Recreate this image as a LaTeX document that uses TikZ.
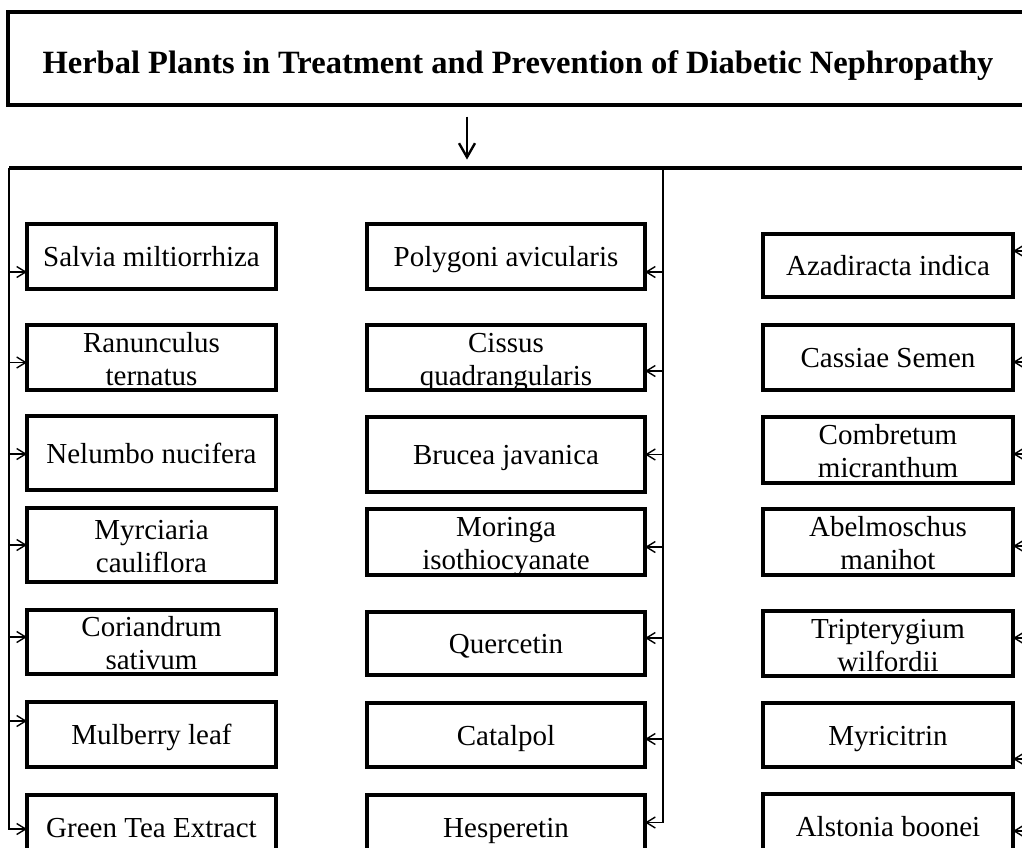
\documentclass[tikz,border=0pt]{standalone}
\usepackage{fontspec}
\setmainfont{Liberation Serif}
\usepackage{tikz}
\usetikzlibrary{arrows.meta,positioning}

\begin{document}
\begin{tikzpicture}[
        x=1pt, y=-1pt,
        node distance=28pt,
        plant/.style={draw, rectangle, line width=3.2pt, inner sep=0pt, outer sep=0pt,
            minimum height=65pt, text height=20pt, text depth=0pt, align=center,
            font=\fontsize{29}{33}\selectfont},
        twoline/.style={text height=55pt, text depth=0pt},
        leftbox/.style={plant, minimum width=249pt},
        midbox/.style={plant, minimum width=278pt},
        rightbox/.style={plant, minimum width=250pt},
        feed/.style={line width=1.4pt, -{Straight Barb[length=9pt,width=11pt,line width=1.4pt]}},
        bus/.style={line width=3.8pt},
        drop/.style={line width=2.4pt, -{Straight Barb[length=14pt,width=16pt,line width=2.4pt]}}
    ]
    \useasboundingbox (0,0) rectangle (1022,847);
    \fill[white] (0,0) rectangle (1022,847);
    \clip (0,0) rectangle (1022,847);

    % header
    \node[draw, line width=3.2pt, minimum width=1020pt, minimum height=93pt, inner sep=0pt,
          text height=30pt, text depth=0pt,
          font=\fontsize{32.5}{36}\selectfont\bfseries] (title) at (518,58.5)
          {Herbal Plants in Treatment and Prevention of Diabetic Nephropathy};

    \coordinate (busL) at (9,168);
    \coordinate (busM) at (663,168);
    \coordinate (busR) at (1034,168);
    \coordinate (busE) at (1044,168);

    % left column
    \node[leftbox] (salvia) at (151.5,256.5) {Salvia miltiorrhiza};
    \node[leftbox, twoline] (ranunculus) [below=36pt of salvia] {Ranunculus\\ternatus};
    \node[leftbox, minimum height=74pt] (nelumbo) [below=26pt of ranunculus] {Nelumbo nucifera};
    \node[leftbox, twoline, minimum height=74pt] (myrciaria) [below=18pt of nelumbo] {Myrciaria\\cauliflora};
    \node[leftbox, twoline, minimum height=64pt] (coriandrum) [below=28pt of myrciaria] {Coriandrum\\sativum};
    \node[leftbox] (mulberry) [below=28pt of coriandrum] {Mulberry leaf};
    \node[leftbox] (greentea) [below=28pt of mulberry] {Green Tea Extract};

    % middle column
    \node[midbox] (polygoni) at (506,256.5) {Polygoni avicularis};
    \node[midbox, twoline] (cissus) [below=36pt of polygoni] {Cissus\\quadrangularis};
    \node[midbox, minimum height=75pt] (brucea) [below=27pt of cissus] {Brucea javanica};
    \node[midbox, twoline, minimum height=66pt] (moringa) [below=17pt of brucea] {Moringa\\isothiocyanate};
    \node[midbox, minimum height=63pt] (quercetin) [below=37pt of moringa] {Quercetin};
    \node[midbox, minimum height=64pt] (catalpol) [below=28pt of quercetin] {Catalpol};
    \node[midbox] (hesperetin) [below=28pt of catalpol] {Hesperetin};

    % right column
    \node[rightbox, minimum height=63pt] (azadiracta) at (888,265.5) {Azadiracta indica};
    \node[rightbox] (cassiae) [below=28pt of azadiracta] {Cassiae Semen};
    \node[rightbox, twoline, minimum height=66pt] (combretum) [below=27pt of cassiae] {Combretum\\micranthum};
    \node[rightbox, twoline, minimum height=66pt] (abelmoschus) [below=26pt of combretum] {Abelmoschus\\manihot};
    \node[rightbox, twoline] (tripterygium) [below=36pt of abelmoschus] {Tripterygium\\wilfordii};
    \node[rightbox, minimum height=64pt] (myricitrin) [below=27pt of tripterygium] {Myricitrin};
    \node[rightbox] (alstonia) [below=27pt of myricitrin] {Alstonia boonei};

    % main arrow and bus
    \draw[drop] ([xshift=-51pt,yshift=-10pt]title.south) -- ([xshift=-51pt,yshift=-53pt]title.south);
    \draw[bus] (busL) -- (busE);

    % trunks
    \draw[feed] (busL) |- ([yshift=-1.5pt]greentea.west);
    \draw[feed] (busM) |- ([yshift=5pt]hesperetin.east);
    \draw[feed] (busR) |- ([yshift=-4.5pt]alstonia.east);

    \path[feed]
        ([yshift=-15.5pt]salvia.west -| busL) edge ([yshift=-15.5pt]salvia.west)
        ([yshift=-5pt]ranunculus.west -| busL) edge ([yshift=-5pt]ranunculus.west)
        ([yshift=-1pt]nelumbo.west -| busL) edge ([yshift=-1pt]nelumbo.west)
        (myrciaria.west -| busL) edge (myrciaria.west)
        ([yshift=5pt]coriandrum.west -| busL) edge ([yshift=5pt]coriandrum.west)
        ([yshift=13.5pt]mulberry.west -| busL) edge ([yshift=13.5pt]mulberry.west);

    \path[feed]
        ([yshift=-15.5pt]polygoni.east -| busM) edge ([yshift=-15.5pt]polygoni.east)
        ([yshift=-13.5pt]cissus.east -| busM) edge ([yshift=-13.5pt]cissus.east)
        (brucea.east -| busM) edge (brucea.east)
        ([yshift=-5pt]moringa.east -| busM) edge ([yshift=-5pt]moringa.east)
        ([yshift=5.5pt]quercetin.east -| busM) edge ([yshift=5.5pt]quercetin.east)
        ([yshift=-4pt]catalpol.east -| busM) edge ([yshift=-4pt]catalpol.east);

    \path[feed]
        ([yshift=14.5pt]azadiracta.east -| busR) edge ([yshift=14.5pt]azadiracta.east)
        ([yshift=-4.5pt]cassiae.east -| busR) edge ([yshift=-4.5pt]cassiae.east)
        ([yshift=-4pt]combretum.east -| busR) edge ([yshift=-4pt]combretum.east)
        ([yshift=-4pt]abelmoschus.east -| busR) edge ([yshift=-4pt]abelmoschus.east)
        ([yshift=5.5pt]tripterygium.east -| busR) edge ([yshift=5.5pt]tripterygium.east)
        ([yshift=-24pt]myricitrin.east -| busR) edge ([yshift=-24pt]myricitrin.east);
\end{tikzpicture}
\end{document}
